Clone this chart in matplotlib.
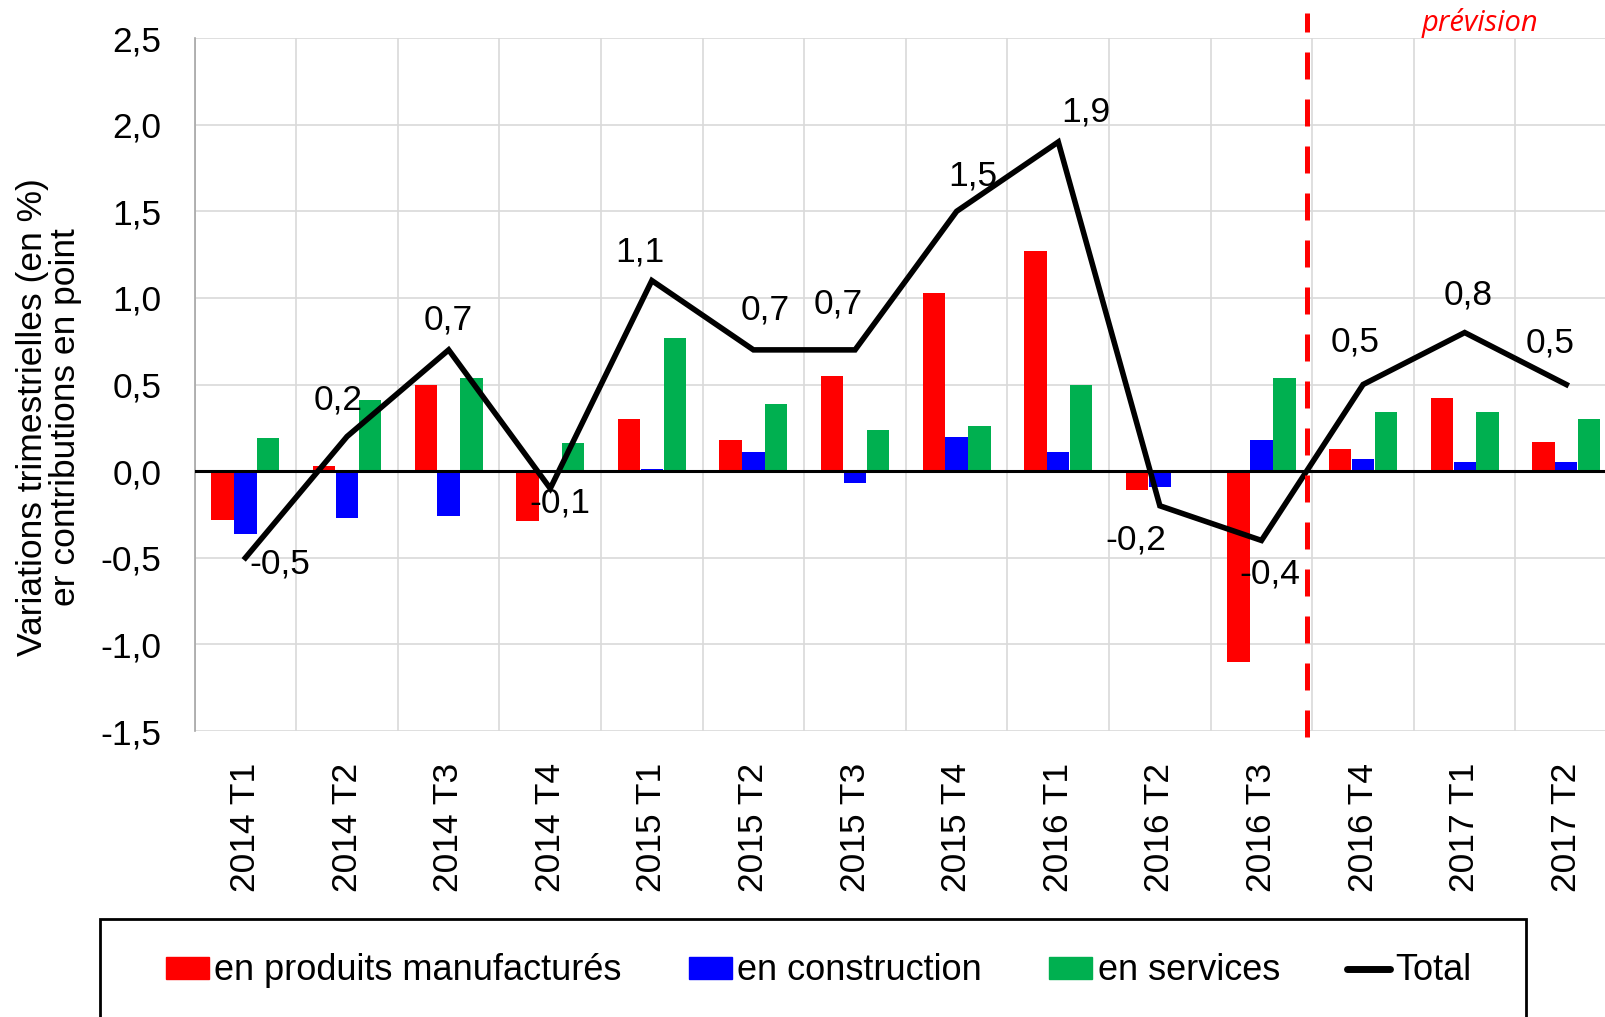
import matplotlib.pyplot as plt
import numpy as np
from matplotlib.lines import Line2D
from matplotlib.patches import Patch, Rectangle

# data
quarters = ['2014 T1', '2014 T2', '2014 T3', '2014 T4', '2015 T1', '2015 T2', '2015 T3',
            '2015 T4', '2016 T1', '2016 T2', '2016 T3', '2016 T4', '2017 T1', '2017 T2']
manuf = [-0.28, 0.03, 0.50, -0.29, 0.30, 0.18, 0.55, 1.03, 1.27, -0.11, -1.10, 0.13, 0.42, 0.17]
constr = [-0.36, -0.27, -0.26, -0.01, 0.01, 0.11, -0.07, 0.20, 0.11, -0.09, 0.18, 0.07, 0.05, 0.05]
services = [0.19, 0.41, 0.54, 0.16, 0.77, 0.39, 0.24, 0.26, 0.50, 0.0, 0.54, 0.34, 0.34, 0.30]
total = [-0.5, 0.2, 0.7, -0.1, 1.1, 0.7, 0.7, 1.5, 1.9, -0.2, -0.4, 0.5, 0.8, 0.5]
total_labels = ['-0,5', '0,2', '0,7', '-0,1', '1,1', '0,7', '0,7', '1,5', '1,9', '-0,2', '-0,4',
                '0,5', '0,8', '0,5']
yticks = [-1.5, -1.0, -0.5, 0.0, 0.5, 1.0, 1.5, 2.0, 2.5]
ytick_labels = ['-1,5', '-1,0', '-0,5', '0,0', '0,5', '1,0', '1,5', '2,0', '2,5']
forecast_start = 10.45

# label offsets in pixels (dx, dy)
label_offsets = [(34, -6), (-9, 37), (0, 30), (10, -15), (-12, 29), (12, 40), (-17, 46),
                 (16, 35), (28, 30), (-24, -34), (8, -34), (-8, 43), (3, 38), (-16, 42)]

plt.rcParams['font.family'] = ['Liberation Sans', 'DejaVu Sans']
FS = 25.5

fig = plt.figure(figsize=(16.06, 10.17), dpi=100)
ax = fig.add_axes([0.1212, 0.2812, 0.8857, 0.6814])

x = np.arange(len(quarters))
w = 0.22
ax.bar(x - 0.225, manuf, w, color='#FF0000', zorder=2)
ax.bar(x, constr, w, color='#0000FF', zorder=2)
ax.bar(x + 0.225, services, w, color='#00B050', zorder=2)
ax.axhline(0, color='black', lw=2.2, zorder=3)
ax.plot(x, total, color='black', lw=4, zorder=4, solid_joinstyle='miter')

for i, lab in enumerate(total_labels):
    ax.annotate(lab, (x[i], total[i]), xytext=label_offsets[i], textcoords='offset pixels',
                ha='center', va='center', fontsize=FS, zorder=5)

# forecast separator
ax.plot([forecast_start, forecast_start], [-0.009, 1.036], color='#FF0000', lw=3.6,
        dashes=(5.4, 4), transform=ax.get_xaxis_transform(), clip_on=False, zorder=6)
fig.text(1480 / 1606, 1 - 23 / 1017, 'prévision', color='#FF0000', fontsize=21,
         family='Open Sans', style='italic', ha='center', va='center')

ax.set_xlim(-0.5, len(quarters) - 0.5)
ax.set_ylim(-1.5, 2.5)
ax.set_yticks(yticks)
ax.set_yticklabels(ytick_labels, fontsize=FS)
ax.set_xticks(x)
ax.set_xticklabels(quarters, rotation=90, fontsize=FS)
ax.set_xticks(np.arange(len(quarters) + 1) - 0.5, minor=True)
ax.tick_params(axis='x', which='both', length=0, pad=23)
ax.tick_params(axis='y', length=0, pad=24)
ax.grid(axis='y', color='#d9d9d9', lw=1.2, zorder=0)
ax.grid(axis='x', which='minor', color='#d9d9d9', lw=1.2, zorder=0)
ax.set_axisbelow(True)
for s in ['top', 'right', 'bottom']:
    ax.spines[s].set_visible(False)
ax.spines['left'].set_color('#a6a6a6')
ax.spines['left'].set_linewidth(1.2)

fig.text(49.5 / 1606, 1 - 417 / 1017,
         'Variations trimestrielles (en %)\ner contributions en point',
         rotation=90, ha='center', va='center', multialignment='center',
         fontsize=FS, linespacing=1.0)

# legend box
fig.patches.append(Rectangle((100 / 1606, -0.05), 1426 / 1606, 0.05 + 1 - 919 / 1017,
                             transform=fig.transFigure, fill=False, ec='black', lw=2))
handles = [Patch(color='#FF0000'), Patch(color='#0000FF'), Patch(color='#00B050'),
           Line2D([], [], color='black', lw=5, solid_capstyle='round')]
fig.legend(handles, ['en produits manufacturés', 'en construction', 'en services', 'Total'],
           loc='center', bbox_to_anchor=(0.5097, 1 - 971 / 1017), ncol=4, frameon=False,
           fontsize=26, handlelength=1.2, handleheight=0.58, handletextpad=0.15,
           columnspacing=1.85)

fig.savefig('out.png', dpi=100)
